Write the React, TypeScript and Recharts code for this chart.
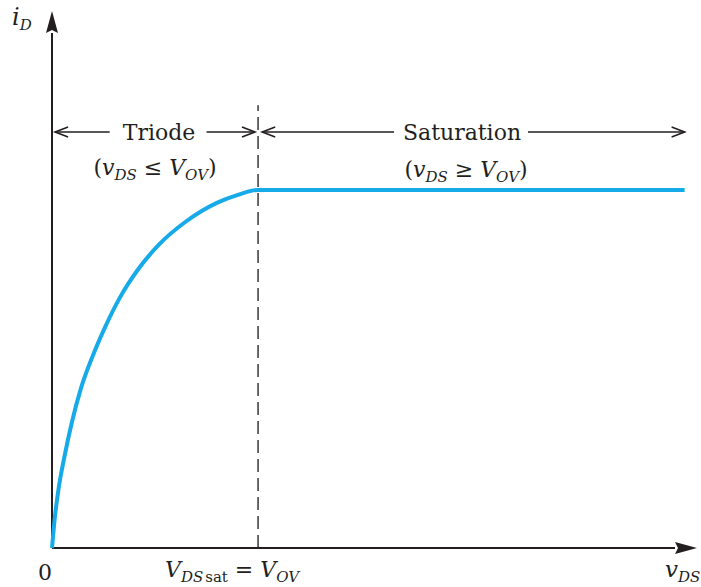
import { LineChart, Line, XAxis, YAxis, ReferenceLine } from "recharts";

// triode region (vDS / VOV, iD / iD,sat)
const vds = [0, 0.011, 0.031, 0.06, 0.096, 0.14, 0.2, 0.26, 0.33, 0.42, 0.52, 0.65, 0.8, 0.91, 1, 3.07];
const id = [0, 0.07, 0.162, 0.254, 0.35, 0.445, 0.54, 0.62, 0.7, 0.78, 0.848, 0.912, 0.964, 0.988, 1, 1];

const data = vds.map((v, i) => ({ v, i: id[i] }));

const ink = "#231f20";
const serif = "DejaVu Serif";

// axis line with a solid triangular head at (x2, y2)
function axisArrow(p: any) {
	const { x1, y1, x2, y2 } = p;
	const ang = Math.atan2(y2 - y1, x2 - x1);
	const len = 22;
	const half = 6;
	const bx = x2 - len * Math.cos(ang);
	const by = y2 - len * Math.sin(ang);
	const nx = -Math.sin(ang) * half;
	const ny = Math.cos(ang) * half;
	return (
		<g>
			<line x1={x1} y1={y1} x2={bx} y2={by} stroke={ink} strokeWidth={2} />
			<path
				d={`M${x2},${y2} L${bx + nx},${by + ny} L${bx + 3 * Math.cos(ang)},${by + 3 * Math.sin(ang)} L${bx - nx},${by - ny} Z`}
				fill={ink}
			/>
		</g>
	);
}

// thin annotation arrow with an open head at the (x2, y2) end
function openArrow(p: any) {
	const { x1, y1, x2, y2 } = p;
	const ang = Math.atan2(y2 - y1, x2 - x1);
	const len = 13;
	const half = 5;
	const bx = x2 - len * Math.cos(ang);
	const by = y2 - len * Math.sin(ang);
	const nx = -Math.sin(ang) * half;
	const ny = Math.cos(ang) * half;
	return (
		<g>
			<line x1={x1} y1={y1} x2={x2} y2={y2} stroke={ink} strokeWidth={1.6} />
			<path
				d={`M${bx + nx},${by + ny} L${x2},${y2} L${bx - nx},${by - ny}`}
				fill="none"
				stroke={ink}
				strokeWidth={1.6}
			/>
		</g>
	);
}

const arrowY = 1.162;

const it = { fontStyle: "italic" as const };

function Sub({ children }: { children: string }) {
	return (
		<tspan fontSize={15} dy={5} style={it}>
			{children}
		</tspan>
	);
}

export default function App() {
	return (
		<div style={{ position: "absolute", left: 0, top: 0, width: 701, height: 587, background: "#fff" }}>
			<LineChart
				width={701}
				height={587}
				data={data}
				margin={{ top: 11, right: 4, bottom: 39, left: 52 }}
			>
				<XAxis type="number" dataKey="v" domain={[0, 3.13]} hide />
				<YAxis type="number" domain={[0, 1.5]} hide />
				<ReferenceLine
					segment={[{ x: 1, y: 0 }, { x: 1, y: 1.237 }]}
					stroke="#444"
					strokeWidth={1.6}
					strokeDasharray="13 6"
				/>
				<ReferenceLine segment={[{ x: 0, y: 0 }, { x: 0, y: 1.5 }]} shape={axisArrow} />
				<ReferenceLine segment={[{ x: 0, y: 0 }, { x: 3.13, y: 0 }]} shape={axisArrow} />
				<ReferenceLine segment={[{ x: 0.28, y: arrowY }, { x: 0.015, y: arrowY }]} shape={openArrow} />
				<ReferenceLine segment={[{ x: 0.75, y: arrowY }, { x: 0.985, y: arrowY }]} shape={openArrow} />
				<ReferenceLine segment={[{ x: 1.66, y: arrowY }, { x: 1.02, y: arrowY }]} shape={openArrow} />
				<ReferenceLine segment={[{ x: 2.31, y: arrowY }, { x: 3.07, y: arrowY }]} shape={openArrow} />
				<Line
					type="monotone"
					dataKey="i"
					stroke="#16aae8"
					strokeWidth={4}
					dot={false}
					isAnimationActive={false}
				/>
			</LineChart>
			<svg
				width={701}
				height={587}
				style={{ position: "absolute", left: 0, top: 0, pointerEvents: "none" }}
				fill={ink}
				fontFamily={serif}
			>
				<text x={12} y={25} fontSize={24} style={it}>
					i<Sub>D</Sub>
				</text>
				<text x={159} y={140} fontSize={22} textAnchor="middle">Triode</text>
				<text x={155} y={175} fontSize={22} textAnchor="middle">
					(<tspan style={it}>v</tspan>
					<Sub>DS</Sub>
					<tspan dy={-5}> ≤ </tspan>
					<tspan style={it}>V</tspan>
					<Sub>OV</Sub>
					<tspan dy={-5}>)</tspan>
				</text>
				<text x={462} y={140} fontSize={22} textAnchor="middle">Saturation</text>
				<text x={466} y={177} fontSize={22} textAnchor="middle">
					(<tspan style={it}>v</tspan>
					<Sub>DS</Sub>
					<tspan dy={-5}> ≥ </tspan>
					<tspan style={it}>V</tspan>
					<Sub>OV</Sub>
					<tspan dy={-5}>)</tspan>
				</text>
				<text x={45} y={580} fontSize={22} textAnchor="middle">0</text>
				<text x={165} y={577} fontSize={22}>
					<tspan style={it}>V</tspan>
					<Sub>DS</Sub>
					<tspan fontSize={15} dx={2}>sat</tspan>
					<tspan dy={-5}> = </tspan>
					<tspan style={it}>V</tspan>
					<Sub>OV</Sub>
				</text>
				<text x={665} y={577} fontSize={23} style={it}>
					v<Sub>DS</Sub>
				</text>
			</svg>
		</div>
	);
}
